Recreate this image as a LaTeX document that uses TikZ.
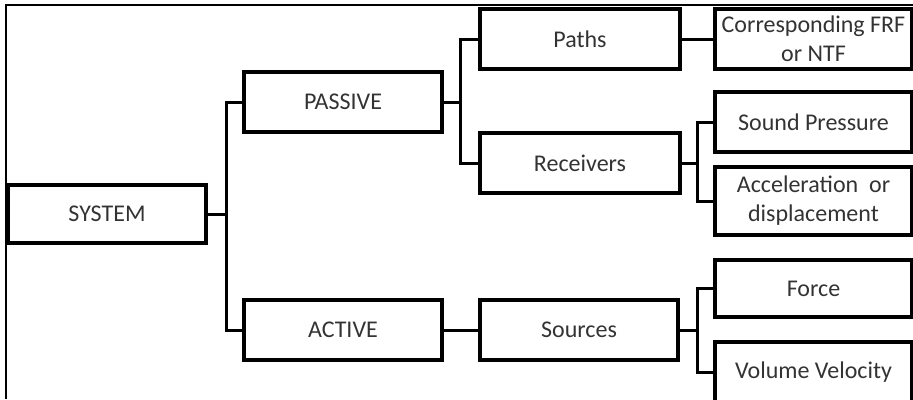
\documentclass[tikz,border=0pt]{standalone}
\usepackage{fontspec}
\setmainfont{Carlito}
\begin{document}
\begin{tikzpicture}[x=1pt,y=-1pt,
  box/.style={draw=black,line width=3.5pt,rectangle,inner sep=0pt,align=center,
    text=black!80,font=\fontsize{24}{29}\selectfont},
  conn/.style={draw=black,line width=3pt}]
\useasboundingbox (0,0) rectangle (913,399);
\draw[line width=1.6pt] (6,399) -- (6,5) -- (913,5);
\node[box,minimum width=198pt,minimum height=58pt] (sys) at (107,214) {SYSTEM};
\node[box,minimum width=198pt,minimum height=60pt] (pas) at (343,102) {PASSIVE};
\node[box,minimum width=198pt,minimum height=60pt] (act) at (343,330) {ACTIVE};
\node[box,minimum width=200pt,minimum height=60pt] (pat) at (580,39) {Paths};
\node[box,minimum width=200pt,minimum height=60pt] (rec) at (580,163) {Receivers};
\node[box,minimum width=198pt,minimum height=60pt] (src) at (579,330) {Sources};
\node[box,minimum width=197pt,minimum height=60pt] (frf) at (813.5,39) {Corresponding FRF\\or NTF};
\node[box,minimum width=197pt,minimum height=60pt] (snd) at (813.5,122) {Sound Pressure};
\node[box,minimum width=197pt,minimum height=68pt] (acc) at (813.5,201) {Acceleration~ or\\displacement};
\node[box,minimum width=197pt,minimum height=57pt] (frc) at (813.5,288.5) {Force};
\node[box,minimum width=197pt,minimum height=60pt] (vol) at (813.5,372) {Volume Velocity};
\coordinate (j1) at (226,214);
\coordinate (j2) at (460,102);
\coordinate (j3) at (697,163);
\coordinate (j4) at (697,330);
\draw[conn] (sys.east) -- (j1);
\draw[conn] (pas.west) -| (j1) |- (act.west);
\draw[conn] (pas.east) -- (j2);
\draw[conn] (pat.west) -| (j2) |- (rec.west);
\draw[conn] (rec.east) -- (j3);
\draw[conn] (snd.west) -| (j3) |- (acc.west);
\draw[conn] (act.east) -- (src.west);
\draw[conn] (src.east) -- (j4);
\draw[conn] (frc.west) -| (j4) |- (vol.west);
\draw[conn] (pat.east) -- (frf.west);
\end{tikzpicture}
\end{document}
